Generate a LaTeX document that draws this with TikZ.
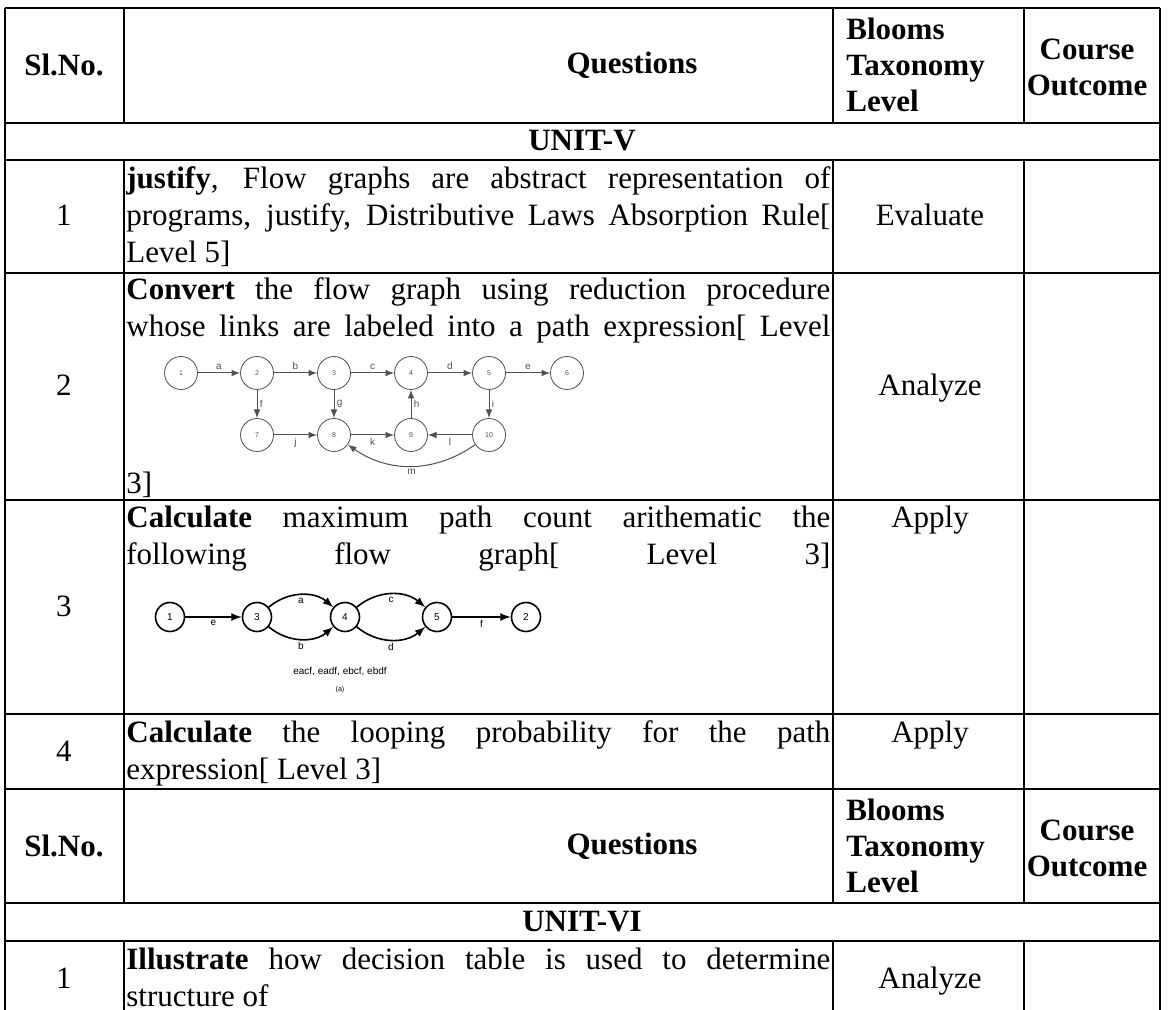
\documentclass[tikz,border=0pt]{standalone}
\usepackage{fontspec}
\setmainfont{Liberation Serif}
\newfontfamily\grfont{Liberation Sans}
\definecolor{grline}{RGB}{80,80,80}
\newcommand{\jl}[1]{\makebox[352pt][s]{#1}}

\begin{document}
\begin{tikzpicture}[x=0.5pt,y=-0.5pt]
	\tikzstyle{hd}=[font=\bfseries\fontsize{15.5}{18}\selectfont,inner sep=0pt];
	\tikzstyle{txt}=[font=\fontsize{15.5}{18.5}\selectfont,inner sep=0pt,anchor=base west];
	\tikzstyle{num}=[font=\fontsize{15.5}{18.5}\selectfont,inner sep=0pt,anchor=base];
	\tikzstyle{rule}=[line width=1pt];
	\tikzstyle{vtx}=[circle,draw=grline,line width=0.4pt,minimum size=16.5pt,inner sep=0pt,text=grline,font=\grfont\fontsize{3.5}{4}\selectfont];
	\tikzstyle{vtxb}=[circle,draw,line width=0.8pt,minimum size=14.5pt,inner sep=0pt,font=\grfont\fontsize{5}{6}\selectfont];
	\tikzstyle{lbl}=[inner sep=1.2pt,font=\grfont\fontsize{5}{6}\selectfont];
	\tikzstyle{garr}=[->,>=latex,draw=grline,line width=0.5pt];
	\tikzstyle{barr}=[->,>=latex,line width=0.8pt];
	\useasboundingbox (0,0) rectangle (1168,1010);
	%% Table Lines
	\draw[rule] (5,8) -- (1160,8);
	\foreach \y in {123,160,273,500,714,789,903,941}
		\draw[rule] (5,\y) -- (1160,\y);
	\draw[rule] (5,8) -- (5,1010);
	\draw[rule] (1160,8) -- (1160,1010);
	\foreach \x in {124,833,1024} {
		\draw[rule] (\x,8) -- (\x,123);
		\draw[rule] (\x,160) -- (\x,903);
		\draw[rule] (\x,941) -- (\x,1010);
	}
	%% Headers
	\node[hd] (sl1) at (64,65) {Sl.No.};
	\node[hd] (qu1) at (632,65) {Questions};
	\node[hd,align=left,anchor=west] (bt1) at (846,65) {Blooms\\Taxonomy\\Level};
	\node[hd,align=center] (co1) at (1087,67) {Course\\Outcome};
	\node[hd] (u5) at (582,141) {UNIT-V};
	\node[hd] (sl2) at (64,846) {Sl.No.};
	\node[hd] (qu2) at (632,846) {Questions};
	\node[hd,align=left,anchor=west] (bt2) at (846,846) {Blooms\\Taxonomy\\Level};
	\node[hd,align=center] (co2) at (1087,848) {Course\\Outcome};
	\node[hd] (u6) at (582,922) {UNIT-VI};
	%% Numbers and Levels
	\node[num] (n1) at (64,226) {1};
	\node[num] (n2) at (64,396) {2};
	\node[num] (n3) at (64,617) {3};
	\node[num] (n4) at (64,761) {4};
	\node[num] (n6) at (64,988) {1};
	\node[num] (lv1) at (930,226) {Evaluate};
	\node[num] (lv2) at (930,396) {Analyze};
	\node[num] (lv3) at (930,528) {Apply};
	\node[num] (lv4) at (930,742) {Apply};
	\node[num] (lv6) at (930,988) {Analyze};
	%% Questions
	\node[txt] (r1a) at (126,189) {\jl{\textbf{justify}, Flow graphs are abstract representation of}};
	\node[txt] (r1b) at (126,226) {\jl{programs, justify, Distributive Laws Absorption Rule[}};
	\node[txt] (r1c) at (126,263) {Level 5]};
	\node[txt] (r2a) at (126,300) {\jl{\textbf{Convert} the flow graph using reduction procedure}};
	\node[txt] (r2b) at (126,337) {\jl{whose links are labeled into a path expression[ Level}};
	\node[txt] (r2c) at (126,494) {3]};
	\node[txt] (r3a) at (126,528) {\jl{\textbf{Calculate} maximum path count arithematic the}};
	\node[txt] (r3b) at (126,565) {\jl{following flow graph[ Level 3]}};
	\node[txt] (r4a) at (126,742) {\jl{\textbf{Calculate} the looping probability for the path}};
	\node[txt] (r4b) at (126,779) {expression[ Level 3]};
	\node[txt] (r6a) at (126,969) {\jl{\textbf{Illustrate} how decision table is used to determine}};
	\node[txt] (r6b) at (126,1006) {structure of};
	%% Flow Graph of Question 2
	\foreach \n/\x in {1/181,2/257,3/334,4/411,5/489,6/567}
		\node[vtx] (p\n) at (\x,373) {\n};
	\foreach \n/\x in {7/257,8/334,9/411,10/489}
		\node[vtx] (p\n) at (\x,435) {\n};
	\draw[garr] (p1) -- node[lbl,above,text=grline] {a} (p2);
	\draw[garr] (p2) -- node[lbl,above,text=grline] {b} (p3);
	\draw[garr] (p3) -- node[lbl,above,text=grline] {c} (p4);
	\draw[garr] (p4) -- node[lbl,above,text=grline] {d} (p5);
	\draw[garr] (p5) -- node[lbl,above,text=grline] {e} (p6);
	\draw[garr] (p2) -- node[lbl,right,text=grline] {f} (p7);
	\draw[garr] (p3) -- node[lbl,right,text=grline] {g} (p8);
	\draw[garr] (p9) -- node[lbl,right,text=grline] {h} (p4);
	\draw[garr] (p5) -- node[lbl,right,text=grline] {i} (p10);
	\draw[garr] (p7) -- node[lbl,below,text=grline] {j} (p8);
	\draw[garr] (p8) -- node[lbl,below,text=grline] {k} (p9);
	\draw[garr] (p10) -- node[lbl,below,text=grline] {l} (p9);
	\draw[garr] (p10) to[bend left=35] node[lbl,below,text=grline] {m} (p8);
	%% Flow Graph of Question 3
	\foreach \n/\x in {1/170,3/257,4/345,5/437,2/526}
		\node[vtxb] (q\n) at (\x,617) {\n};
	\draw[barr] (q1) -- node[lbl,below] {e} (q3);
	\draw[barr] (q3) to[bend left=40] node[lbl,below] {a} (q4);
	\draw[barr] (q3) to[bend right=40] node[lbl,below] {b} (q4);
	\draw[barr] (q4) to[bend left=40] node[lbl,below] {c} (q5);
	\draw[barr] (q4) to[bend right=40] node[lbl,below] {d} (q5);
	\draw[barr] (q5) -- node[lbl,below] {f} (q2);
	\node[lbl] (paths) at (340,672) {eacf, eadf, ebcf, ebdf};
	\node[lbl,font=\grfont\fontsize{3.5}{4}\selectfont] (fig) at (340,690) {(a)};
\end{tikzpicture}
\end{document}
